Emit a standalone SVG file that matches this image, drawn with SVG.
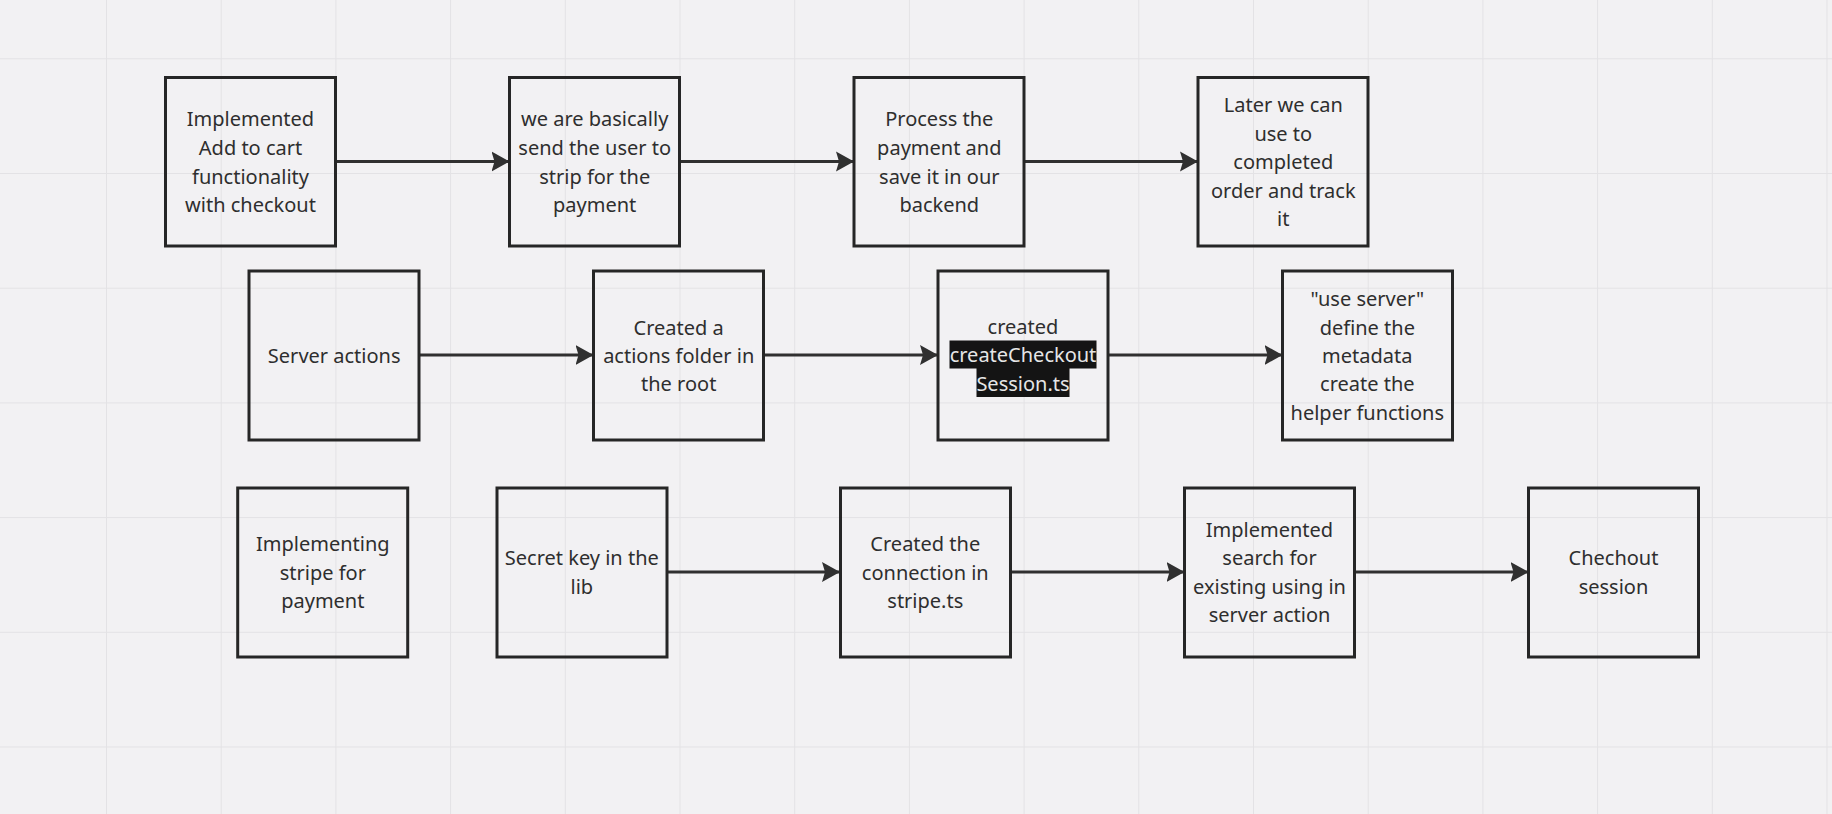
<svg xmlns="http://www.w3.org/2000/svg" width="1832" height="814" viewBox="0 0 1832 814">
<style>
.box{fill:none;stroke:#262626;stroke-width:3}
.t{font-family:"Noto Sans","Open Sans",sans-serif;font-size:20px;fill:#2e2e2e;text-anchor:middle}
.w{fill:#e6e6e6}
.hl{fill:#141414}
.c{fill:none;stroke:#303030;stroke-width:3;marker-end:url(#arr)}
</style>
<defs>
<pattern id="grid" x="106" y="58.3" width="114.7" height="114.7" patternUnits="userSpaceOnUse">
<path d="M0,0 V114.7 M0,0 H114.7" fill="none" stroke="#e3e2e5" stroke-width="2"/>
</pattern>
<marker id="arr" markerUnits="userSpaceOnUse" markerWidth="20" markerHeight="22" refX="18" refY="11" orient="auto">
<path d="M0,1 L18,11 L0,21 L3,11 Z" fill="#303030"/>
</marker>
</defs>
<rect width="1832" height="814" fill="#f2f1f3"/>
<rect width="1832" height="814" fill="url(#grid)"/>
<g id="connectors">
<line class="c" x1="336" y1="161.5" x2="509.5" y2="161.5"/>
<line class="c" x1="680" y1="161.5" x2="854" y2="161.5"/>
<line class="c" x1="1024.5" y1="161.5" x2="1198" y2="161.5"/>
<line class="c" x1="419.5" y1="355" x2="593.5" y2="355"/>
<line class="c" x1="764" y1="355" x2="938" y2="355"/>
<line class="c" x1="1108" y1="355" x2="1282.5" y2="355"/>
<line class="c" x1="667" y1="572" x2="840" y2="572"/>
<line class="c" x1="1010.5" y1="572" x2="1184.5" y2="572"/>
<line class="c" x1="1354.5" y1="572" x2="1528.5" y2="572"/>
</g>
<g id="n1">
<rect class="box" x="165.5" y="77.5" width="170" height="168.5"/>
<text class="t"><tspan x="250.5" y="126.3">Implemented</tspan><tspan x="250.5" y="154.9">Add to cart</tspan><tspan x="250.5" y="183.5">functionality</tspan><tspan x="250.5" y="212.1">with checkout</tspan></text>
</g>
<g id="n2">
<rect class="box" x="509.5" y="77.5" width="170" height="168.5"/>
<text class="t"><tspan x="594.7" y="126.3">we are basically</tspan><tspan x="594.7" y="154.9">send the user to</tspan><tspan x="594.7" y="183.5">strip for the</tspan><tspan x="594.7" y="212.1">payment</tspan></text>
</g>
<g id="n3">
<rect class="box" x="854" y="77.5" width="170" height="168.5"/>
<text class="t"><tspan x="939.3" y="126.3">Process the</tspan><tspan x="939.3" y="154.9">payment and</tspan><tspan x="939.3" y="183.5">save it in our</tspan><tspan x="939.3" y="212.1">backend</tspan></text>
</g>
<g id="n4">
<rect class="box" x="1198" y="77.5" width="170" height="168.5"/>
<text class="t"><tspan x="1283.3" y="112">Later we can</tspan><tspan x="1283.3" y="140.5">use to</tspan><tspan x="1283.3" y="169">completed</tspan><tspan x="1283.3" y="197.5">order and track</tspan><tspan x="1283.3" y="226">it</tspan></text>
</g>
<g id="n5">
<rect class="box" x="249" y="271" width="170" height="169"/>
<text class="t"><tspan x="334.2" y="363">Server actions</tspan></text>
</g>
<g id="n6">
<rect class="box" x="593.5" y="271" width="170" height="169"/>
<text class="t"><tspan x="678.7" y="334.7">Created a</tspan><tspan x="678.7" y="363">actions folder in</tspan><tspan x="678.7" y="391.3">the root</tspan></text>
</g>
<g id="n7">
<rect class="box" x="938" y="271" width="170" height="169"/>
<rect class="hl" x="949.5" y="340.5" width="147" height="28"/>
<rect class="hl" x="976.5" y="368" width="93" height="29"/>
<text class="t"><tspan x="1023" y="333.7">created</tspan><tspan x="1023" y="362.2" class="w">createCheckout</tspan><tspan x="1023" y="390.7" class="w">Session.ts</tspan></text>
</g>
<g id="n8">
<rect class="box" x="1282.5" y="271" width="170" height="169"/>
<text class="t"><tspan x="1367.3" y="306.3">"use server"</tspan><tspan x="1367.3" y="334.7">define the</tspan><tspan x="1367.3" y="363">metadata</tspan><tspan x="1367.3" y="391.3">create the</tspan><tspan x="1367.3" y="419.7">helper functions</tspan></text>
</g>
<g id="n9">
<rect class="box" x="237.7" y="488" width="170" height="169"/>
<text class="t"><tspan x="322.8" y="551.3">Implementing</tspan><tspan x="322.8" y="579.7">stripe for</tspan><tspan x="322.8" y="608">payment</tspan></text>
</g>
<g id="n10">
<rect class="box" x="497" y="488" width="170" height="169"/>
<text class="t"><tspan x="581.8" y="565.3">Secret key in the</tspan><tspan x="581.8" y="593.7">lib</tspan></text>
</g>
<g id="n11">
<rect class="box" x="840.5" y="488" width="170" height="169"/>
<text class="t"><tspan x="925.3" y="551.3">Created the</tspan><tspan x="925.3" y="579.7">connection in</tspan><tspan x="925.3" y="608">stripe.ts</tspan></text>
</g>
<g id="n12">
<rect class="box" x="1184.5" y="488" width="170" height="169"/>
<text class="t"><tspan x="1269.5" y="537">Implemented</tspan><tspan x="1269.5" y="565.3">search for</tspan><tspan x="1269.5" y="593.7">existing using in</tspan><tspan x="1269.5" y="622">server action</tspan></text>
</g>
<g id="n13">
<rect class="box" x="1528.5" y="488" width="170" height="169"/>
<text class="t"><tspan x="1613.5" y="565.3">Chechout</tspan><tspan x="1613.5" y="593.7">session</tspan></text>
</g>
</svg>
